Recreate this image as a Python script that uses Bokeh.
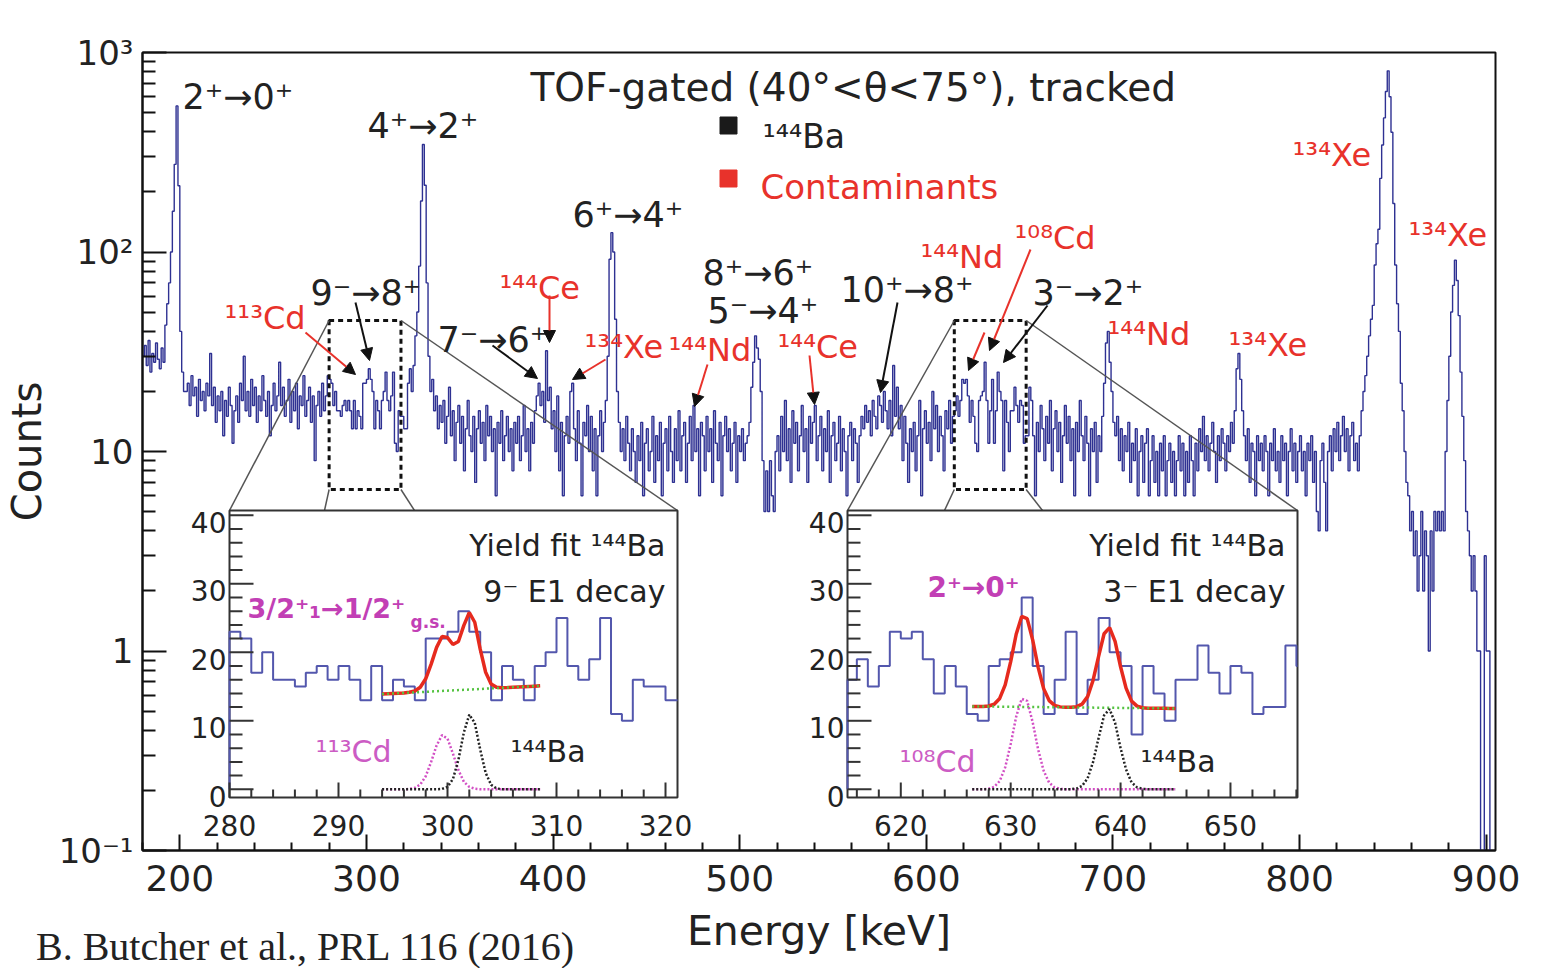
import numpy as np
from bokeh.plotting import figure
from bokeh.layouts import column
from bokeh.models import (Range1d, LinearScale, FixedTicker, ColumnDataSource, Arrow,
                          NormalHead, Div)
from bokeh.core.properties import value
from bokeh.embed import file_html
from bokeh.resources import INLINE

# ---------------- data: counts per 1 keV bin, lower bin edges from 180 keV ----------------
counts_180_279 = [
    30, 34, 27, 36, 25, 31, 28, 35, 29, 26, 33, 28, 43, 55, 70, 100, 160, 275, 540, 215,
    40, 25, 20, 20, 22, 17, 24, 19, 21, 15, 23, 18, 20, 16, 22, 19, 31, 17, 21, 14,
    19, 16, 20, 12, 18, 15, 21, 17, 11, 16, 19, 14, 22, 18, 30, 16, 20, 15, 23, 17,
    21, 14, 19, 16, 24, 18, 15, 20, 12, 17, 22, 16, 19, 28, 17, 21, 15, 18, 23, 14,
    20, 16, 22, 13, 19, 17, 24, 15, 18, 21, 14, 19, 9, 17, 20, 15, 22, 16, 19, 24,
]
counts_280_379 = [
    23, 22, 17, 20, 16, 16, 15, 17, 18, 16, 18, 16, 13, 18, 13, 16, 15, 13, 22, 22,
    23, 26, 23, 20, 13, 18, 16, 13, 18, 20, 25, 18, 16, 19, 25, 11, 10, 16, 15, 15,
    13, 13, 22, 26, 20, 27, 38, 50, 85, 180, 346, 216, 70, 30, 20, 23, 16, 19, 13, 17,
    14, 18, 11, 15, 21, 12, 16, 9, 14, 17, 11, 15, 8, 13, 18, 12, 10, 15, 7, 13,
    16, 11, 14, 9, 17, 12, 15, 10, 13, 6, 14, 11, 16, 9, 12, 15, 10, 13, 8, 14,
]
counts_380_479 = [
    11, 15, 9, 12, 17, 10, 13, 8, 14, 11, 16, 19, 22, 17, 20, 14, 32, 18, 21, 13,
    16, 10, 19, 8, 14, 6, 12, 15, 11, 20, 22, 13, 9, 16, 11, 6, 14, 12, 17, 10,
    15, 8, 13, 6, 12, 16, 10, 14, 18, 30, 92, 125, 100, 46, 20, 14, 10, 13, 9, 15,
    11, 8, 13, 10, 7, 12, 9, 14, 6, 11, 13, 8, 10, 15, 7, 12, 9, 14, 6, 11,
    13, 8, 15, 10, 7, 13, 9, 16, 8, 12, 14, 7, 11, 15, 9, 17, 10, 13, 6, 14,
]
counts_480_579 = [
    12, 8, 15, 10, 13, 7, 16, 11, 9, 14, 6, 12, 15, 10, 13, 8, 11, 14, 7, 12,
    10, 13, 9, 11, 12, 14, 21, 28, 38, 33, 29, 20, 9, 5, 8, 5, 9, 6, 5, 10,
    12, 8, 15, 10, 18, 9, 13, 7, 16, 11, 14, 8, 12, 17, 10, 13, 7, 15, 11, 14,
    17, 9, 12, 15, 8, 13, 10, 16, 7, 12, 14, 9, 11, 15, 8, 13, 10, 6, 12, 14,
    9, 13, 11, 7, 12, 15, 13, 17, 14, 16, 12, 18, 15, 13, 19, 17, 14, 20, 16, 13,
]
counts_580_679 = [
    18, 12, 27, 15, 21, 13, 17, 9, 15, 11, 7, 13, 10, 14, 8, 12, 18, 6, 13, 16,
    11, 14, 9, 20, 13, 17, 10, 15, 12, 8, 16, 13, 18, 11, 15, 16, 19, 15, 18, 23,
    22, 23, 19, 14, 18, 15, 11, 10, 18, 19, 20, 28, 18, 11, 16, 23, 11, 16, 25, 20,
    18, 8, 18, 14, 10, 16, 16, 21, 17, 14, 18, 17, 11, 12, 12, 21, 18, 12, 6, 14,
    10, 17, 13, 9, 15, 11, 18, 8, 13, 16, 10, 14, 7, 12, 17, 11, 15, 9, 13, 6,
]
counts_680_779 = [
    14, 10, 18, 12, 9, 15, 11, 6, 13, 10, 14, 7, 12, 10, 15, 22, 35, 40, 28, 20,
    14, 12, 15, 9, 13, 8, 12, 10, 14, 7, 11, 9, 13, 6, 10, 12, 7, 11, 13, 6,
    9, 12, 7, 10, 6, 11, 8, 12, 6, 9, 11, 7, 10, 6, 9, 12, 8, 11, 6, 10,
    7, 12, 9, 6, 11, 8, 13, 10, 15, 9, 12, 8, 11, 14, 10, 7, 12, 9, 13, 11,
    8, 12, 10, 14, 11, 16, 26, 31, 23, 16, 12, 9, 13, 7, 11, 10, 6, 12, 9, 11,
]
counts_780_904 = [
    8, 12, 10, 6, 11, 9, 13, 8, 10, 7, 12, 9, 11, 6, 10, 13, 8, 11, 7, 10,
    12, 8, 10, 6, 11, 9, 12, 7, 10, 5, 4, 9, 11, 7, 4, 10, 12, 8, 13, 10,
    14, 9, 12, 15, 10, 13, 8, 12, 14, 9, 11, 8, 12, 16, 20, 24, 30, 38, 46, 54,
    86, 110, 130, 234, 344, 470, 638, 809, 600, 398, 175, 86, 55, 40, 22, 16, 10, 7, 6, 4,
    5, 3, 4, 2, 3, 5, 2, 4, 3, 1, 4, 2, 5, 4, 5, 4, 5, 4, 10, 18,
    30, 50, 68, 91, 72, 48, 25, 15, 9, 5, 4, 3, 2, 3, 2, 1, 1, 0, 0, 3,
    1, 1, 0, 0, 0,
]
E_FIRST = 180  # keV, lower edge of first bin

# inset yield fits (sampled every 0.5 keV)
fitL_start, fitL_stop = 294.0, 308.5
fitL_bg = [13.9, 15.1]                       # linear background at start / stop
fitL_cd113 = [0, 0, 0, 0, 0, 0.05, 0.2, 0.7, 1.9, 4.0, 6.4, 7.9, 7.4, 5.2, 2.8,
              1.1, 0.35, 0.08, 0.01, 0, 0, 0, 0, 0, 0, 0, 0, 0, 0, 0]
fitL_ba144 = [0, 0, 0, 0, 0, 0, 0, 0, 0, 0, 0, 0.05, 0.35, 1.5, 4.3,
              8.3, 10.9, 9.7, 5.8, 2.4, 0.65, 0.12, 0.02, 0, 0, 0, 0, 0, 0, 0]
fitR_start, fitR_stop = 626.5, 645.0
fitR_bg = [12.1, 11.8]
fitR_cd108 = [0, 0, 0.01, 0.08, 0.35, 1.2, 3.2, 6.6, 10.6, 13.2, 12.9, 9.8, 5.8, 2.7, 0.96,
              0.27, 0.06, 0, 0, 0, 0, 0, 0, 0, 0, 0, 0, 0, 0, 0, 0, 0, 0, 0, 0, 0, 0, 0]
fitR_ba144 = [0, 0, 0, 0, 0, 0, 0, 0, 0, 0, 0, 0, 0, 0, 0, 0, 0, 0, 0.02,
              0.11, 0.49, 1.6, 4.0, 7.5, 10.8, 11.7, 9.7, 6.0, 2.9, 1.0, 0.28, 0.06,
              0, 0, 0, 0, 0, 0]

x_major = [200, 300, 400, 500, 600, 700, 800, 900]
y_major_labels = {0.1: "10⁻¹", 1: "1", 10: "10", 100: "10²", 1000: "10³"}
citation = "B. Butcher et al., PRL 116 (2016)"

# ---------------- layout ----------------
FL, FR, FT, FB = 140, 1493, 60, 858          # frame edges on the page (px)
XMIN, XMAX = 180.0, 905.0
YMIN, YMAX = 0.1, 1000.0
INSET_Y = (-1.2, 40.7)
L_BOX = (227, 518, 675, 805)                  # left, top, right, bottom (page px)
R_BOX = (845, 518, 1295, 805)
L_X = (280.0, 321.1)
R_X = (615.15, 656.1)
FIG_H = 968
CITE_TOP = 935                                # page px of the citation line box
TXT_DY = 7                                    # baseline correction for text glyphs

INK = "#222222"
RED = "#e8322b"
BLUE = "#2e3192"
IBLUE = "#5357ad"
MAG = "#c23fb5"
FONT = "DejaVu Sans"


def mx(px):
    return XMIN + (px - FL) * (XMAX - XMIN) / (FR - FL)


def my(py):
    return 10 ** (np.log10(YMAX) - (py - FT) * (np.log10(YMAX) - np.log10(YMIN)) / (FB - FT))


def ext_x(lim, box):
    s = (box[2] - box[0]) / (lim[1] - lim[0])
    return Range1d(lim[0] - (box[0] - FL) / s, lim[1] + (FR - box[2]) / s), s


def ext_y(lim, box):
    s = (box[3] - box[1]) / (lim[1] - lim[0])
    return Range1d(lim[0] - (FB - box[3]) / s, lim[1] + (box[1] - FT) / s), s


rL, sL = ext_x(L_X, L_BOX)
rR, sR = ext_x(R_X, R_BOX)
rI, sI = ext_y(INSET_Y, L_BOX)


def lx(px):
    return L_X[0] + (px - L_BOX[0]) / sL


def rx(px):
    return R_X[0] + (px - R_BOX[0]) / sR


def iy(py):
    return INSET_Y[0] + (L_BOX[3] - py) / sI


p = figure(frame_width=FR - FL, frame_height=FB - FT,
           x_range=Range1d(XMIN, XMAX), y_range=Range1d(YMIN, YMAX),
           y_axis_type="log", output_backend="svg", toolbar_location=None,
           min_border_left=FL - 8, min_border_top=FT - 8,
           min_border_right=32, min_border_bottom=FIG_H - (FB - 8),
           background_fill_color="white", border_fill_color="white")
p.extra_x_ranges = {"L": rL, "R": rR}
p.extra_x_scales = {"L": LinearScale(), "R": LinearScale()}
p.extra_y_ranges = {"I": rI}
p.extra_y_scales = {"I": LinearScale()}

p.grid.visible = False
p.outline_line_color = "#111111"
p.outline_line_width = 2

p.xaxis.ticker = FixedTicker(ticks=x_major,
                             minor_ticks=[v for v in range(180, 905, 20) if v % 100])
p.yaxis.ticker = FixedTicker(ticks=list(y_major_labels.keys()),
                             minor_ticks=[m * 10.0 ** e for e in (-1, 0, 1, 2) for m in range(2, 10)])
p.yaxis.major_label_overrides = y_major_labels
for ax in (p.xaxis, p.yaxis):
    ax.axis_line_width = 2
    ax.axis_line_color = "#111111"
    ax.major_tick_line_color = "#111111"
    ax.minor_tick_line_color = "#111111"
    ax.major_tick_line_width = 2
    ax.minor_tick_line_width = 2
    ax.major_tick_out = 0
    ax.minor_tick_out = 0
    ax.major_label_text_font = FONT
    ax.major_label_text_color = INK
    ax.axis_label_text_font = FONT
    ax.axis_label_text_font_style = "normal"
    ax.axis_label_text_color = INK
p.xaxis.major_label_text_font_size = "36px"
p.xaxis.axis_label_text_font_size = "41px"
p.yaxis.major_label_text_font_size = "34px"
p.yaxis.axis_label_text_font_size = "40px"
p.xaxis.major_tick_in = 16
p.xaxis.minor_tick_in = 8
p.yaxis.major_tick_in = 24
p.yaxis.minor_tick_in = 13
p.xaxis.major_label_standoff = 14
p.yaxis.major_label_standoff = 9
p.xaxis.axis_label = "Energy [keV]"
p.yaxis.axis_label = "Counts"
p.xaxis.axis_label_standoff = 13
p.yaxis.axis_label_standoff = 6


def txt(xs, ys, texts, size, color, align="left", bold=False, xr="default", yr="default"):
    p.text(x=xs, y=ys, text=texts, text_font=value(FONT), text_font_size=value(size),
           text_color=color, text_align=align, text_baseline="middle", y_offset=TXT_DY,
           text_font_style="bold" if bold else "normal", x_range_name=xr, y_range_name=yr)


# ---------------- main spectrum ----------------
counts = np.array(counts_180_279 + counts_280_379 + counts_380_479 + counts_480_579
                  + counts_580_679 + counts_680_779 + counts_780_904, dtype=float)
edges = E_FIRST + np.arange(len(counts) + 1)
y_draw = np.where(counts > 0, counts, 1e-3)
p.step(edges, np.append(y_draw, y_draw[-1]), mode="after", line_color=BLUE, line_width=1.4)

# dashed zoom boxes and connectors
zoom_boxes = [(L_X[0], 318.5, L_BOX, 95, 185), (615.0, 653.5, R_BOX, 97, 195)]
box_lo, box_hi = my(497), my(328)
for x0, x1, box, d0, d1 in zoom_boxes:
    p.quad(left=[x0], right=[x1], bottom=[box_lo], top=[box_hi], fill_color=None,
           line_color="#111111", line_width=3, line_dash="5 4")
    yt = my(box[1])
    p.segment(x0=[x0, x1, x0, x1], y0=[box_hi, box_hi, box_lo, box_lo],
              x1=[mx(box[0]), mx(box[2]), mx(box[0] + d0), mx(box[0] + d1)],
              y1=[yt] * 4, line_color="#555555", line_width=1.5)

# ---------------- insets ----------------


def draw_inset(rn, lim, box, sx, fit_start, fit_stop, bg, cd, ba, ticks_major, cd_label,
               cd_lab_pos, ba_lab_pos, decay_text, trans_parts, to_x):
    lo, hi = lim
    p.quad(left=[lo], right=[hi], bottom=[INSET_Y[0]], top=[INSET_Y[1]], fill_color="white",
           line_color="#333333", line_width=2, x_range_name=rn, y_range_name="I")
    i0 = int(np.floor(lo)) - E_FIRST
    i1 = int(np.floor(hi)) - E_FIRST
    xe = np.clip(edges[i0:i1 + 2], lo, hi)
    vals = counts[i0:i1 + 1]
    xs = np.concatenate([[lo], xe])
    ys = np.concatenate([[0.0], vals, [vals[-1]]])
    p.step(xs, ys, mode="after", line_color=IBLUE, line_width=2,
           x_range_name=rn, y_range_name="I")
    fx = np.arange(fit_start, fit_stop + 0.01, 0.5)
    bgv = np.interp(fx, [fit_start, fit_stop], bg)
    tot = bgv + np.array(cd) + np.array(ba)
    p.line(fx, tot, line_color="#e62a1e", line_width=3.5, x_range_name=rn, y_range_name="I")
    p.line([fit_start, fit_stop], bg, line_color="#55c341", line_width=2.5, line_dash="2 3",
           x_range_name=rn, y_range_name="I")
    p.line(fx, cd, line_color="#d24fc4", line_width=2.5, line_dash="2 2",
           x_range_name=rn, y_range_name="I")
    p.line(fx, ba, line_color="#222222", line_width=2.5, line_dash="2 2",
           x_range_name=rn, y_range_name="I")
    # ticks
    ybot = INSET_Y[0]
    xmin_t = [v for v in range(int(np.ceil(lo)), int(hi) + 1) if v % 2 == 0 and v % 10]
    p.segment(x0=ticks_major, y0=[ybot] * len(ticks_major), x1=ticks_major,
              y1=[ybot + 15 / sI] * len(ticks_major), line_color="#333333", line_width=2,
              x_range_name=rn, y_range_name="I")
    p.segment(x0=xmin_t, y0=[ybot] * len(xmin_t), x1=xmin_t, y1=[ybot + 8 / sI] * len(xmin_t),
              line_color="#333333", line_width=2, x_range_name=rn, y_range_name="I")
    ymaj = [0, 10, 20, 30, 40]
    ymin_t = [v for v in range(2, 40, 2) if v % 10]
    p.segment(x0=[lo] * 5, y0=ymaj, x1=[lo + 24 / sx] * 5, y1=ymaj, line_color="#333333",
              line_width=2, x_range_name=rn, y_range_name="I")
    p.segment(x0=[lo] * len(ymin_t), y0=ymin_t, x1=[lo + 13 / sx] * len(ymin_t), y1=ymin_t,
              line_color="#333333", line_width=2, x_range_name=rn, y_range_name="I")
    txt(ticks_major, [iy(826)] * len(ticks_major), [str(t) for t in ticks_major], "28px", INK,
        align="center", xr=rn, yr="I")
    txt([to_x(box[0] - 3)] * 5, ymaj, [str(v) for v in ymaj], "28px", INK, align="right",
        xr=rn, yr="I")
    # texts
    txt([to_x(box[2] - 12)] * 2, [iy(546), iy(592)], ["Yield fit ¹⁴⁴Ba", decay_text], "30px",
        INK, align="right", xr=rn, yr="I")
    for s, px, py, size in trans_parts:
        txt([to_x(px)], [iy(py)], [s], size, MAG, bold=True, xr=rn, yr="I")
    txt([to_x(cd_lab_pos[0])], [iy(cd_lab_pos[1])], [cd_label], "30px", "#cc5cc4", xr=rn, yr="I")
    txt([to_x(ba_lab_pos[0])], [iy(ba_lab_pos[1])], ["¹⁴⁴Ba"], "30px", INK, xr=rn, yr="I")


draw_inset("L", L_X, L_BOX, sL, fitL_start, fitL_stop, fitL_bg, fitL_cd113, fitL_ba144,
           [280, 290, 300, 310, 320], "¹¹³Cd", (313, 752), (508, 752), "9⁻ E1 decay",
           [("3/2⁺₁→1/2⁺", 245, 609, "27px"), ("g.s.", 408, 622, "17px")], lx)
draw_inset("R", R_X, R_BOX, sR, fitR_start, fitR_stop, fitR_bg, fitR_cd108, fitR_ba144,
           [620, 630, 640, 650], "¹⁰⁸Cd", (897, 762), (1138, 762), "3⁻ E1 decay",
           [("2⁺→0⁺", 925, 588, "28px")], rx)

# ---------------- annotations ----------------
black_labels = [("2⁺→0⁺", 180, 97), ("4⁺→2⁺", 365, 126), ("6⁺→4⁺", 570, 215),
                ("8⁺→6⁺", 700, 273), ("5⁻→4⁺", 705, 311), ("10⁺→8⁺", 838, 290),
                ("3⁻→2⁺", 1030, 293), ("9⁻→8⁺", 308, 293), ("7⁻→6⁺", 435, 340)]
red_labels = [("¹¹³Cd", 222, 318), ("¹⁴⁴Ce", 497, 288), ("¹³⁴Xe", 582, 347),
              ("¹⁴⁴Nd", 666, 350), ("¹⁴⁴Ce", 775, 347), ("¹⁴⁴Nd", 918, 257),
              ("¹⁰⁸Cd", 1012, 238), ("¹⁴⁴Nd", 1105, 334), ("¹³⁴Xe", 1226, 345),
              ("¹³⁴Xe", 1290, 155), ("¹³⁴Xe", 1406, 235)]
txt([mx(a[1]) for a in black_labels], [my(a[2]) for a in black_labels],
    [a[0] for a in black_labels], "35px", INK)
txt([mx(a[1]) for a in red_labels], [my(a[2]) for a in red_labels],
    [a[0] for a in red_labels], "32px", RED)
txt([mx(528)], [my(88)], ["TOF-gated (40°<θ<75°), tracked"], "39px", INK)
p.scatter(x=[mx(726), mx(726)], y=[my(133), my(186)], marker="square", size=17,
          color=["#1a1a1a", RED])
txt([mx(760)], [my(137)], ["¹⁴⁴Ba"], "33px", INK)
txt([mx(758)], [my(187)], ["Contaminants"], "34px", RED)

black_arrows = [(353, 310, 367, 368), (490, 353, 535, 386), (895, 310, 878, 400),
                (1045, 313, 1001, 370)]
red_arrows = [(303, 340, 353, 382), (547, 303, 547, 350), (603, 367, 570, 387),
              (705, 372, 692, 414), (807, 363, 812, 412), (982, 340, 966, 378),
              (1028, 257, 987, 358)]
for arrows, col in ((black_arrows, "#111111"), (red_arrows, RED)):
    src = ColumnDataSource(dict(x0=[mx(a[0]) for a in arrows], y0=[my(a[1]) for a in arrows],
                                x1=[mx(a[2]) for a in arrows], y1=[my(a[3]) for a in arrows]))
    p.add_layout(Arrow(end=NormalHead(size=12, fill_color="#111111", line_color="#111111",
                                      line_width=1),
                       x_start="x0", y_start="y0", x_end="x1", y_end="y1", source=src,
                       line_color=col, line_width=2))

cite = Div(text=citation, width=700, height=40,
           styles={"margin-top": f"{CITE_TOP - (8 + FIG_H)}px", "margin-left": "36px",
                   "font-family": "'Liberation Serif', serif", "font-size": "40px",
                   "line-height": "40px", "color": "#222222", "white-space": "nowrap"})

layout = column(p, cite, spacing=0)
open("out.html", "w").write(file_html(layout, INLINE))
